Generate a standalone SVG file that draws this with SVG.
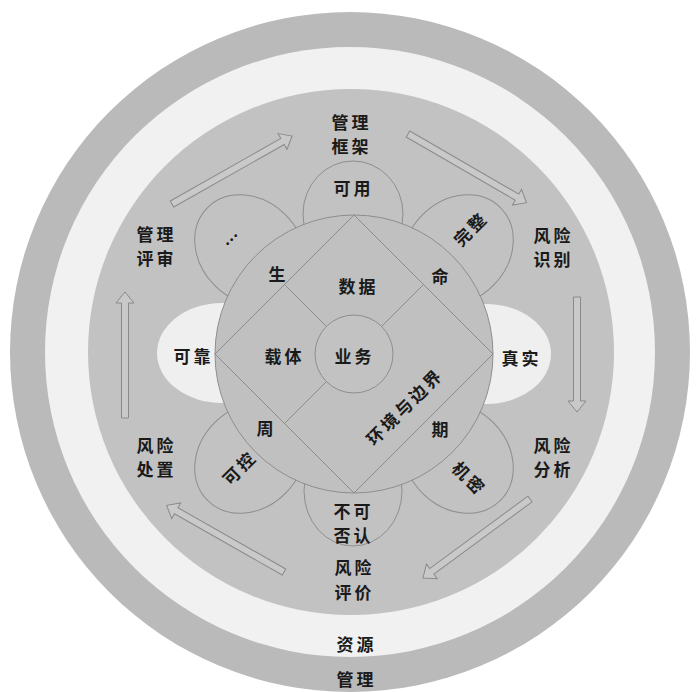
<svg xmlns="http://www.w3.org/2000/svg" width="696" height="692" viewBox="0 0 696 692">
<defs>
<style>
.t{font-family:"Noto Sans CJK SC","Noto Sans CJK JP",sans-serif;font-size:17px;font-weight:600;fill:#1a1a1a;text-anchor:middle;dominant-baseline:central;letter-spacing:3px}
.ln{fill:none;stroke:#8c8c8c;stroke-width:1}
.petal{fill:#c2c2c2;stroke:#8e8e8e;stroke-width:1}
.wpetal{fill:#efefef;stroke:none}
.arrow{fill:#c9c9c9;stroke:#8a8a8a;stroke-width:1;stroke-linejoin:miter}
</style>
</defs>
<rect width="696" height="692" fill="#ffffff"/>
<g id="ring-management">
<circle cx="350" cy="352" r="340" fill="#bababa"/>
</g>
<g id="ring-resource">
<circle cx="350" cy="352" r="305" fill="#f1f1f1"/>
</g>
<g id="process-disc">
<circle cx="351" cy="352" r="263" fill="#c2c2c2"/>
</g>
<g id="petals">
<g id="petal-reliable"><ellipse class="wpetal" cx="222" cy="353" rx="65" ry="50"/></g>
<g id="petal-authentic"><ellipse class="wpetal" cx="486" cy="354" rx="65" ry="50"/></g>
<g id="petal-available"><ellipse class="petal" cx="353" cy="214" rx="50" ry="53"/></g>
<g id="petal-nonrepudiation"><ellipse class="petal" cx="353" cy="491" rx="49" ry="55"/></g>
<g id="petal-etc"><ellipse class="petal" cx="250" cy="250" rx="60" ry="50" transform="rotate(45 250 250)"/></g>
<g id="petal-integrity"><ellipse class="petal" cx="458" cy="250" rx="60" ry="50" transform="rotate(-45 458 250)"/></g>
<g id="petal-controllable"><ellipse class="petal" cx="250" cy="458" rx="60" ry="50" transform="rotate(-45 250 458)"/></g>
<g id="petal-confidential"><ellipse class="petal" cx="458" cy="458" rx="60" ry="50" transform="rotate(45 458 458)"/></g>
</g>
<g id="lifecycle-circle">
<circle cx="354" cy="354" r="139" fill="#c0c0c0" stroke="#8e8e8e" stroke-width="1"/>
</g>
<g id="diamond">
<polygon class="ln" points="354,215 493,354 354,493 215,354"/>
<line class="ln" x1="326" y1="326" x2="284" y2="284"/>
<line class="ln" x1="382" y1="326" x2="424" y2="284"/>
<line class="ln" x1="326" y1="382" x2="284" y2="424"/>
</g>
<g id="business">
<circle cx="354" cy="354" r="39" fill="#c2c2c2" stroke="#8e8e8e" stroke-width="1"/>
</g>
<g id="connectors">
<path class="arrow" transform="translate(172,204) rotate(-29.5)" d="M0,-3.5 H127 V-9 L138,0 L127,9 V3.5 H0 Z"/>
<path class="arrow" transform="translate(408,134) rotate(30.1)" d="M0,-3.5 H126 V-9 L137,0 L126,9 V3.5 H0 Z"/>
<path class="arrow" transform="translate(577,297) rotate(90)" d="M0,-3.5 H104 V-9 L115,0 L104,9 V3.5 H0 Z"/>
<path class="arrow" transform="translate(530,499) rotate(143.6)" d="M0,-3.5 H122 V-9 L133,0 L122,9 V3.5 H0 Z"/>
<path class="arrow" transform="translate(284,572) rotate(-150.4)" d="M0,-3.5 H124 V-9 L135,0 L124,9 V3.5 H0 Z"/>
<path class="arrow" transform="translate(125,418) rotate(-90)" d="M0,-3.5 H115 V-9 L126,0 L115,9 V3.5 H0 Z"/>
</g>
<g id="labels">
<g id="n-framework"><text class="t" x="351.5" y="121">管理</text><text class="t" x="351.5" y="145">框架</text></g>
<g id="n-review"><text class="t" x="156.5" y="233">管理</text><text class="t" x="156.5" y="257">评审</text></g>
<g id="n-identify"><text class="t" x="553.5" y="234">风险</text><text class="t" x="553.5" y="258">识别</text></g>
<g id="n-treat"><text class="t" x="156.5" y="444">风险</text><text class="t" x="156.5" y="468">处置</text></g>
<g id="n-analyze"><text class="t" x="553.5" y="444">风险</text><text class="t" x="553.5" y="468">分析</text></g>
<g id="n-evaluate"><text class="t" x="354.5" y="566">风险</text><text class="t" x="354.5" y="591">评价</text></g>
<g id="n-resource"><text class="t" x="356.5" y="643">资源</text></g>
<g id="n-management"><text class="t" x="356.5" y="678">管理</text></g>
<text class="t" x="353.5" y="187">可用</text>
<text class="t" x="0" y="0" transform="translate(232,238) rotate(-45)">…</text>
<text class="t" x="1.5" y="0" transform="translate(469,229) rotate(-45)">完整</text>
<text class="t" x="193.5" y="355">可靠</text>
<text class="t" x="521.5" y="357">真实</text>
<text class="t" x="1.5" y="0" transform="translate(238,468) rotate(-45)">可控</text>
<text class="t" x="1.5" y="0" transform="translate(469,477) rotate(45)">机密</text>
<text class="t" x="353.5" y="510">不可</text>
<text class="t" x="353.5" y="534">否认</text>
<text class="t" x="278.5" y="273">生</text>
<text class="t" x="441.5" y="275">命</text>
<text class="t" x="266.5" y="427">周</text>
<text class="t" x="441.5" y="428">期</text>
<text class="t" x="358.5" y="285">数据</text>
<text class="t" x="284.5" y="355">载体</text>
<text class="t" x="354.5" y="355">业务</text>
<text class="t" x="1.5" y="0" transform="translate(403,407) rotate(-45)">环境与边界</text>
</g>
</svg>
